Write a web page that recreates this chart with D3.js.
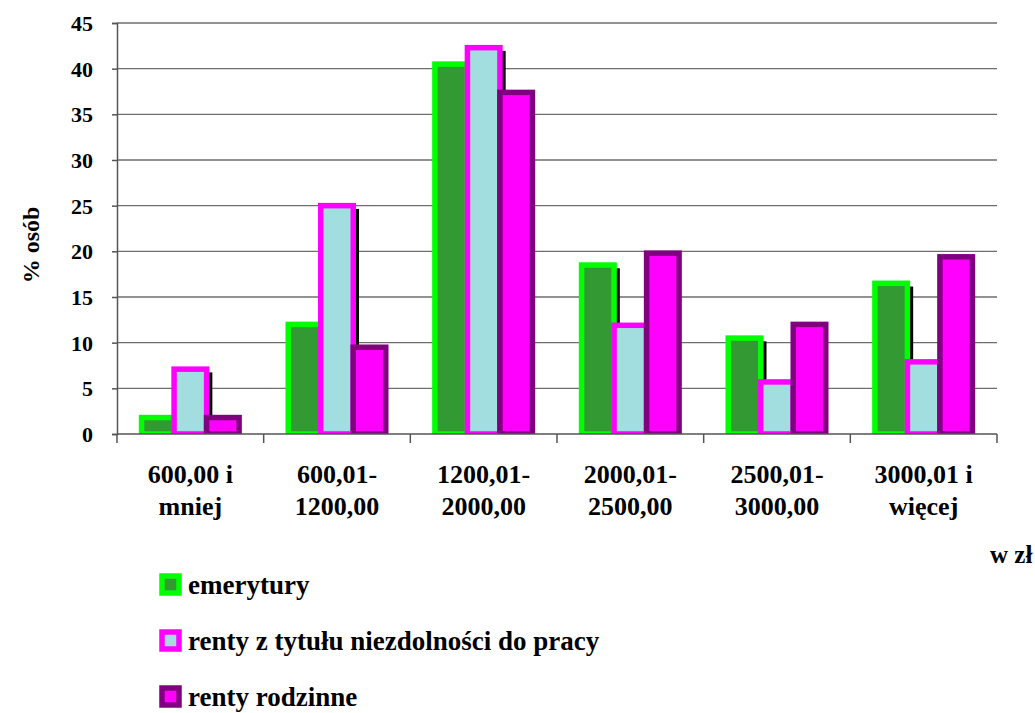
<!DOCTYPE html>
<html><head><meta charset="utf-8">
<script src="https://cdn.jsdelivr.net/npm/d3@7"></script>
<style>body{margin:0;background:#fff}svg{display:block}</style>
</head><body>
<svg id="c" width="1035" height="713"></svg>
<script>
const categories = ["600,00 i\nmniej","600,01-\n1200,00","1200,01-\n2000,00","2000,01-\n2500,00","2500,01-\n3000,00","3000,01 i\nwięcej"];
const seriesNames = ["emerytury","renty z tytułu niezdolności do pracy","renty rodzinne"];
const emerytury = [1.8, 12.0, 40.5, 18.5, 10.5, 16.5];
const rentyNiezdolnosc = [7.1, 25.0, 42.3, 11.9, 5.7, 7.9];
const rentyRodzinne = [1.8, 9.5, 37.4, 19.8, 12.0, 19.4];
const yTicks = [0,5,10,15,20,25,30,35,40,45];
const borderColors = ["#00ff00","#ff00ff","#800080"];
const fillColors = ["#339933","#a2dedf","#ff00ff"];
const hasShadow = [true,true,false];

function font(sel, size){ return sel.style("font-family",'"Liberation Serif"').style("font-weight","bold").style("font-size",size+"px").style("fill","#000"); }

const values = [emerytury, rentyNiezdolnosc, rentyRodzinne];
const svg = d3.select("#c");
const L=117,R=997,T=23,B=434;
const x0 = d3.scaleBand().domain(categories).range([L,R]).padding(0);
const x1 = d3.scaleBand().domain(seriesNames).range([0,x0.bandwidth()]).paddingInner(0).paddingOuter(0.756);
const y = d3.scaleLinear().domain([0,45]).range([B,T]);

// gridlines
svg.append("g").selectAll("line").data(yTicks.filter(d=>d>0)).join("line")
  .attr("x1",L).attr("x2",R).attr("y1",d=>y(d)).attr("y2",d=>y(d))
  .attr("stroke","#6e6e6e").attr("stroke-width",1.4);

svg.append("defs").append("clipPath").attr("id","clip").append("rect")
  .attr("x",0).attr("y",0).attr("width",1035).attr("height",B);

const bars = svg.append("g").attr("clip-path","url(#clip)");
const sw = 5.5;
categories.forEach((c,ci)=>{
  seriesNames.forEach((s,si)=>{
    const v = values[si][ci];
    const bx = x0(c)+x1(s), bw = x1.bandwidth();
    if(hasShadow[si]){
      bars.append("rect").attr("x",bx-sw/2+3).attr("y",y(v)-sw/2+6)
        .attr("width",bw+sw).attr("height",B-y(v)+sw).attr("fill","#000");
    }
    bars.append("rect").attr("x",bx).attr("y",y(v)).attr("width",bw).attr("height",B-y(v))
      .attr("fill",fillColors[si]).attr("stroke",borderColors[si]).attr("stroke-width",sw);
  });
});

// y axis
const yAxis = d3.axisLeft(y).tickValues(yTicks).tickSize(5).tickPadding(19);
const gy = svg.append("g").attr("transform",`translate(${L},0)`).call(yAxis)
  .attr("font-family",null).attr("font-size",null);
gy.select(".domain").attr("stroke","#555").attr("stroke-width",1.5);
gy.selectAll(".tick line").attr("stroke","#555").attr("stroke-width",1.5);
font(gy.selectAll(".tick text"),22).attr("dy","0.34em");

// x axis
svg.append("line").attr("x1",L).attr("x2",R).attr("y1",B).attr("y2",B).attr("stroke","#555").attr("stroke-width",1.5);
const bounds = categories.map(c=>x0(c)).concat([R]);
svg.append("g").selectAll("line").data(bounds).join("line")
  .attr("x1",d=>d).attr("x2",d=>d).attr("y1",B).attr("y2",B+9).attr("stroke","#555").attr("stroke-width",1.5);

const cx = d=>x0(d)+x0.bandwidth()/2;
categories.forEach(c=>{
  c.split("\n").forEach((line,i)=>{
    font(svg.append("text").attr("x",cx(c)).attr("y",483+i*32).attr("text-anchor","middle"),26).text(line);
  });
});

font(svg.append("text").attr("transform","translate(39,245) rotate(-90)").attr("text-anchor","middle"),24).text("% osób");
font(svg.append("text").attr("x",990).attr("y",563),25).text("w zł");

// legend
seriesNames.forEach((s,i)=>{
  const g = svg.append("g").attr("transform",`translate(162,${576+i*56})`);
  g.append("rect").attr("x",0).attr("y",0).attr("width",17).attr("height",17)
    .attr("fill",fillColors[i]).attr("stroke",borderColors[i]).attr("stroke-width",5.5);
  font(g.append("text").attr("x",26).attr("y",18),27).text(s);
});
</script>
</body></html>
